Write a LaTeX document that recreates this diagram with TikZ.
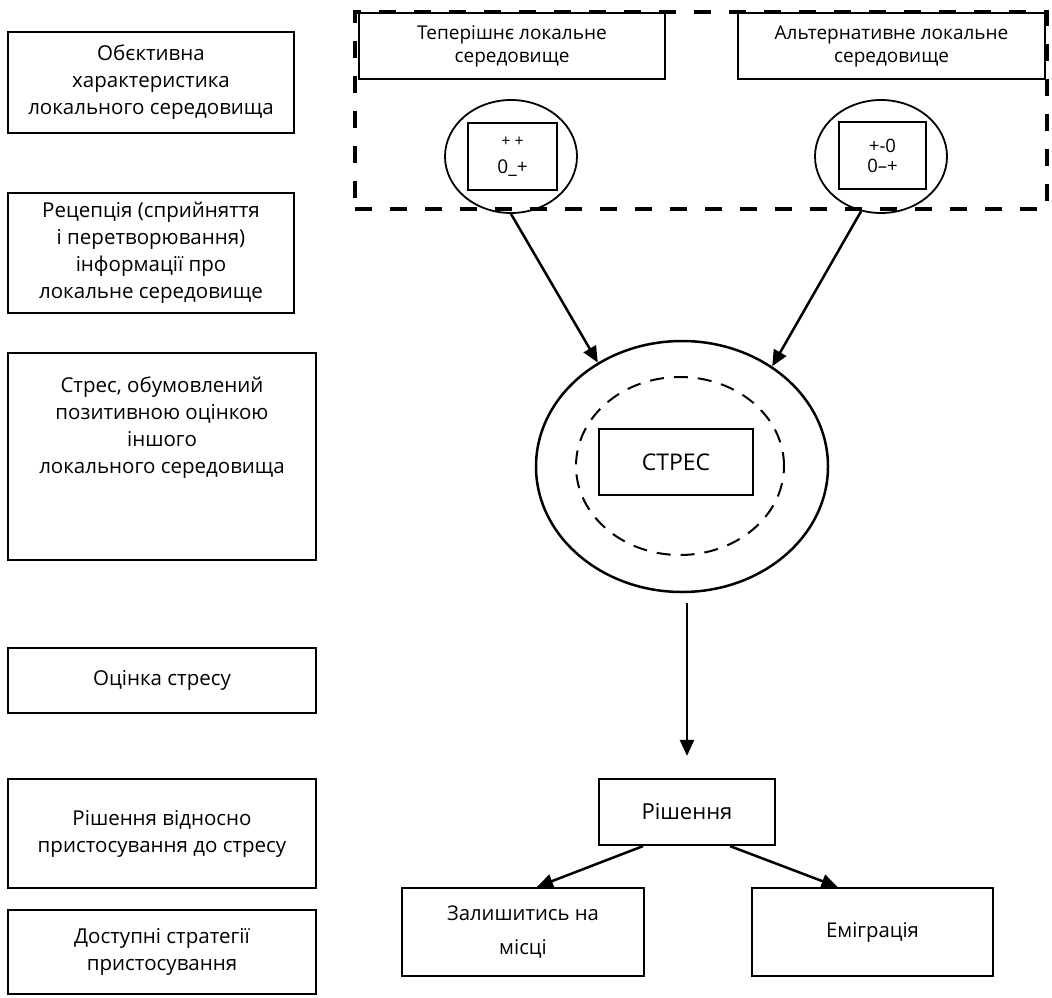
\documentclass[tikz,border=0pt]{standalone}
\usepackage{fontspec}
\setmainfont{Open Sans}
\usetikzlibrary{shapes.geometric,arrows.meta}

\begin{document}
\begin{tikzpicture}[x=1pt,y=-1pt,every text node part/.style={align=center},
  box/.style={draw,line width=2.2pt,inner sep=0pt,font=\fontsize{20.5}{27}\selectfont},
  lbl/.style={inner sep=0pt,font=\fontsize{20.5}{27}\selectfont},
  ring/.style={draw,ellipse,line width=1.8pt,inner sep=0pt},
  arrow/.style={line width=2.5pt,-{Triangle[length=16pt,width=14pt]}}]
\useasboundingbox (0,0) rectangle (1052,998);
% left column
\node[box,minimum width=286,minimum height=101] (objchar) at (151,82.5) {Обєктивна\\характеристика\\локального середовища};
\node[box,minimum width=286,minimum height=120] (recep) at (151,253) {Рецепція (сприйняття\\і перетворювання)\\інформації про\\локальне середовище};
\node[box,minimum width=308,minimum height=207] (stressbox) at (162,456.5) {};
\node[lbl] (stressdesc) at (162,428) {Стрес, обумовлений\\позитивною оцінкою\\іншого\\локального середовища};
\node[box,minimum width=308,minimum height=65] (evalstress) at (162,680.5) {Оцінка стресу};
\node[box,minimum width=308,minimum height=109] (copedec) at (162,833.5) {Рішення відносно\\пристосування до стресу};
\node[box,minimum width=308,minimum height=84] (strateg) at (162,952) {Доступні стратегії\\пристосування};
% environments
\node[draw,line width=4pt,dash pattern=on 17pt off 18pt,minimum width=692,minimum height=197] (envframe) at (701,110.5) {};
\node[box,minimum width=306,minimum height=66,font=\fontsize{19}{23}\selectfont] (curenv) at (512,46) {Теперішнє локальне\\середовище};
\node[box,minimum width=307,minimum height=66,font=\fontsize{19}{23}\selectfont] (altenv) at (891.5,46) {Альтернативне локальне\\середовище};
\node[ring,minimum width=132,minimum height=113] (curcirc) at (511,156.5) {};
\node[box,minimum width=89,minimum height=67,font=\fontsize{19}{21}\selectfont] (curmark) at (512.5,156.5) {{\fontsize{16}{21}\selectfont + +}\\[6pt]0\_+};
\node[ring,minimum width=132,minimum height=113] (altcirc) at (881,156.5) {};
\node[box,minimum width=87,minimum height=67,font=\fontsize{18.5}{20}\selectfont] (altmark) at (882.5,155.5) {+-0\\0–+};
% stress
\node[draw,ellipse,line width=2.5pt,minimum width=292,minimum height=251] (stress) at (682,466.5) {};
\node[draw,ellipse,line width=2pt,dash pattern=on 14pt off 10pt,minimum width=208,minimum height=178] (stresszone) at (680,466) {};
\node[box,minimum width=154,minimum height=66,font=\fontsize{23}{25}\selectfont] (stresslbl) at (676,462) {СТРЕС};
% decision
\node[box,minimum width=176,minimum height=66,font=\fontsize{22}{25}\selectfont] (decision) at (687,812) {Рішення};
\node[box,minimum width=242,minimum height=88,font=\fontsize{20.3}{34}\selectfont] (stay) at (523,932) {Залишитись на\\місці};
\node[box,minimum width=241,minimum height=88,font=\fontsize{20.3}{34}\selectfont] (emig) at (872.5,932) {Еміграція};
\draw[arrow] (curcirc.south) -- (stress.129);
\draw[arrow] (altcirc.250) -- (stress.48);
\draw[arrow,shorten <=10pt,shorten >=22pt] (stress.south -| decision.north) -- (decision.north);
\draw[arrow] ([xshift=-44pt]decision.south) -- ([xshift=14pt]stay.north);
\draw[arrow] ([xshift=43pt]decision.south) -- ([xshift=-35pt]emig.north);
\end{tikzpicture}
\end{document}
